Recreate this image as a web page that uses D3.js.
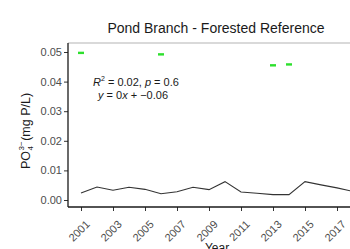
<!DOCTYPE html>
<html>
<head>
<meta charset="utf-8">
<script src="https://cdn.jsdelivr.net/npm/d3@7"></script>
<style>
  body { margin: 0; background: #fff; }
  svg { display: block; font-family: "Liberation Sans", Arial, sans-serif; }
</style>
</head>
<body>
<div id="chart"></div>
<script>
// Annual mean PO4 (mg P/L) at Pond Branch
const years = [2001, 2002, 2003, 2004, 2005, 2006, 2007, 2008, 2009,
  2010, 2011, 2012, 2013, 2014, 2015, 2016, 2017, 2018];
const po4 = [0.0024, 0.0044, 0.0033, 0.0043, 0.0036, 0.0021, 0.0028, 0.0043, 0.0035,
  0.0062, 0.0027, 0.0023, 0.0018, 0.0018, 0.0062, 0.0051, 0.0041, 0.0029];

// high outlier samples shown as green dashes
const outlierYears = [2001, 2006, 2013, 2014];
const outlierValues = [0.0497, 0.0492, 0.0455, 0.0458];

const yTicks = [0, 0.01, 0.02, 0.03, 0.04, 0.05];
const xTicks = [2001, 2003, 2005, 2007, 2009, 2011, 2013, 2015, 2017];

const title = "Pond Branch - Forested Reference";

const W = 350, H = 249;
const svg = d3.select("#chart").append("svg")
  .attr("width", W).attr("height", H);

const panel = { left: 68, top: 43, bottom: 207 };

const x = d3.scaleLinear().domain([2001, 2018]).range([81, 353]);
const y = d3.scaleLinear().domain([0, 0.05]).range([200, 52]);

// title
svg.append("text")
  .attr("x", 216).attr("y", 33)
  .attr("text-anchor", "middle")
  .attr("font-size", 14)
  .attr("fill", "#1a1a1a")
  .text(title);

// panel top border
svg.append("line")
  .attr("x1", panel.left).attr("x2", W)
  .attr("y1", panel.top).attr("y2", panel.top)
  .attr("stroke", "#b3b3b3").attr("stroke-width", 1);

// y axis
const yAxis = svg.append("g")
  .attr("transform", `translate(${panel.left},0)`)
  .call(d3.axisLeft(y).tickValues(yTicks).tickFormat(d3.format(".2f")).tickSize(4).tickPadding(2));
yAxis.select(".domain").remove();
yAxis.selectAll("line").attr("stroke", "#333");
yAxis.selectAll("text").attr("font-size", 11).attr("fill", "#4d4d4d")
  .attr("font-family", "Liberation Sans, Arial, sans-serif");

// x axis
const xAxis = svg.append("g")
  .attr("transform", `translate(0,${panel.bottom})`)
  .call(d3.axisBottom(x).tickValues(xTicks).tickFormat(d3.format("d")).tickSize(4));
xAxis.select(".domain").remove();
xAxis.selectAll("line").attr("stroke", "#333");
xAxis.selectAll("text")
  .attr("font-size", 11).attr("fill", "#4d4d4d")
  .attr("font-family", "Liberation Sans, Arial, sans-serif")
  .attr("text-anchor", "end")
  .attr("dy", null)
  .attr("y", 0)
  .attr("transform", "translate(9,18) rotate(-45)");

// axis lines
svg.append("line")
  .attr("x1", panel.left).attr("x2", panel.left)
  .attr("y1", panel.top).attr("y2", panel.bottom)
  .attr("stroke", "#1a1a1a").attr("stroke-width", 1.3);
svg.append("line")
  .attr("x1", panel.left).attr("x2", W)
  .attr("y1", panel.bottom).attr("y2", panel.bottom)
  .attr("stroke", "#1a1a1a").attr("stroke-width", 1.3);

// series line
const line = d3.line().x((d, i) => x(years[i])).y(d => y(d));
svg.append("path")
  .datum(po4)
  .attr("d", line)
  .attr("fill", "none")
  .attr("stroke", "#333")
  .attr("stroke-width", 1.1);

// outlier dashes
svg.selectAll("rect.out")
  .data(outlierValues)
  .join("rect")
  .attr("class", "out")
  .attr("x", (d, i) => x(outlierYears[i]) - 3)
  .attr("y", d => y(d) - 1.2)
  .attr("width", 6).attr("height", 2.4)
  .attr("fill", "#2de02d");

// regression annotation
const ann = svg.append("g").attr("font-size", 11).attr("fill", "#1a1a1a");
const t1 = ann.append("text").attr("x", 93).attr("y", 86);
t1.append("tspan").attr("font-style", "italic").text("R");
t1.append("tspan").attr("font-size", 7).attr("dy", -5).text("2");
t1.append("tspan").attr("dy", 5).text(" = 0.02, ");
t1.append("tspan").attr("font-style", "italic").text("p");
t1.append("tspan").text(" = 0.6");
const t2 = ann.append("text").attr("x", 98).attr("y", 99);
t2.append("tspan").attr("font-style", "italic").text("y");
t2.append("tspan").text(" =  0");
t2.append("tspan").attr("font-style", "italic").text("x");
t2.append("tspan").text(" + \u22120.06");

// y label: PO4^3- (mg P/L)
const yl = svg.append("g")
  .attr("transform", "translate(30,123) rotate(-90)")
  .attr("fill", "#1a1a1a");
const start = -46;
const po = yl.append("text").attr("x", start).attr("y", 0).attr("font-size", 12.5).text("PO");
const w1 = po.node().getComputedTextLength();
yl.append("text").attr("x", start + w1 + 0.5).attr("y", 3).attr("font-size", 8).text("4");
const sup = yl.append("text").attr("x", start + w1 + 0.5).attr("y", -6).attr("font-size", 8).text("3\u2212");
const w2 = sup.node().getComputedTextLength();
yl.append("text").attr("x", start + w1 + w2 + 1).attr("y", 0).attr("font-size", 12.5).text(" (mg P/L)");

// x label (bottom clipped by the frame, as in the source image)
svg.append("text")
  .attr("x", 217).attr("y", 252)
  .attr("text-anchor", "middle")
  .attr("font-size", 12)
  .attr("fill", "#1a1a1a")
  .text("Year");
</script>
</body>
</html>
